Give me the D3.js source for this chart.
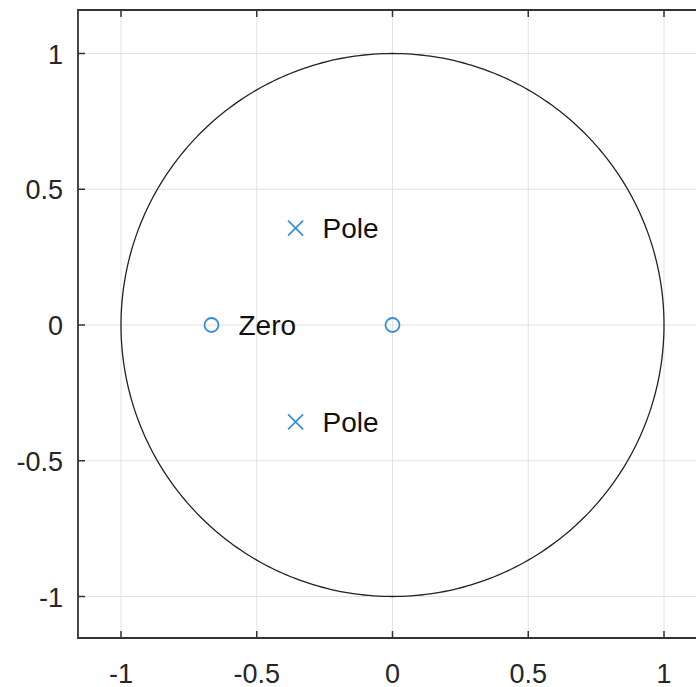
<!DOCTYPE html>
<html><head><meta charset="utf-8">
<script src="https://cdn.jsdelivr.net/npm/d3@7"></script>
<style>body{margin:0;background:#fff}svg{display:block}text{font-family:"Liberation Sans",Arial,sans-serif}</style>
</head><body>
<svg id="c" width="696" height="687"></svg>
<script>
const xTicks = [-1, -0.5, 0, 0.5, 1];
const yTicks = [-1, -0.5, 0, 0.5, 1];
const zeroRe = [-0.6667, 0];
const zeroIm = [0, 0];
const poleRe = [-0.357, -0.357];
const poleIm = [0.357, -0.357];
const labels = [{t:"Zero", re:-0.6667, im:0}, {t:"Pole", re:-0.357, im:0.357}, {t:"Pole", re:-0.357, im:-0.357}];

(function(){
const svg = d3.select("#c");
const pL = 78, pT = 10, pB = 638, pR = 720;
const k = 271.5;
const cx = 392.5, cy = 325;
const x = d3.scaleLinear().domain([-1, 1]).range([cx - k, cx + k]);
const y = d3.scaleLinear().domain([-1, 1]).range([cy + k, cy - k]);

// grid
svg.append("g").selectAll("line").data(xTicks).join("line")
  .attr("x1", d => x(d)).attr("x2", d => x(d)).attr("y1", pT).attr("y2", pB)
  .attr("stroke", "#e2e2e2").attr("stroke-width", 1);
svg.append("g").selectAll("line").data(yTicks).join("line")
  .attr("x1", pL).attr("x2", pR).attr("y1", d => y(d)).attr("y2", d => y(d))
  .attr("stroke", "#e2e2e2").attr("stroke-width", 1);

// unit circle
const th = d3.range(0, 361).map(d => d * Math.PI / 180);
svg.append("path").datum(th)
  .attr("d", d3.line().x(t => x(Math.cos(t))).y(t => y(Math.sin(t))))
  .attr("fill", "none").attr("stroke", "#222").attr("stroke-width", 1.3);

// axes frame
const tl = 7;
svg.append("g").selectAll("line").data(xTicks).join("line")
  .attr("x1", d => x(d)).attr("x2", d => x(d)).attr("y1", pB).attr("y2", pB - tl)
  .attr("stroke", "#333").attr("stroke-width", 1.5);
svg.append("g").selectAll("line").data(xTicks).join("line")
  .attr("x1", d => x(d)).attr("x2", d => x(d)).attr("y1", pT).attr("y2", pT + tl)
  .attr("stroke", "#333").attr("stroke-width", 1.5);
svg.append("g").selectAll("line").data(yTicks).join("line")
  .attr("x1", pL).attr("x2", pL + tl).attr("y1", d => y(d)).attr("y2", d => y(d))
  .attr("stroke", "#333").attr("stroke-width", 1.5);
svg.append("path")
  .attr("d", `M${pR},${pT}H${pL}V${pB}H${pR}`)
  .attr("fill", "none").attr("stroke", "#333").attr("stroke-width", 1.8);

// tick labels
const fmt = d => d === 0 ? "0" : String(d);
svg.append("g").selectAll("text").data(xTicks).join("text")
  .attr("x", d => x(d)).attr("y", 683).attr("text-anchor", "middle")
  .attr("font-size", 27).attr("fill", "#262626").text(fmt);
svg.append("g").selectAll("text").data(yTicks).join("text")
  .attr("x", 63).attr("y", d => y(d) + 10).attr("text-anchor", "end")
  .attr("font-size", 27).attr("fill", "#262626").text(fmt);

const blue = "#3b8ed6";
svg.append("g").selectAll("circle").data(zeroRe).join("circle")
  .attr("cx", d => x(d)).attr("cy", (d, i) => y(zeroIm[i])).attr("r", 7)
  .attr("fill", "none").attr("stroke", blue).attr("stroke-width", 1.8);
const s = 7.5;
svg.append("g").selectAll("path").data(poleRe).join("path")
  .attr("d", (d, i) => { const px = x(d), py = y(poleIm[i]);
    return `M${px-s},${py-s}L${px+s},${py+s}M${px-s},${py+s}L${px+s},${py-s}`; })
  .attr("stroke", blue).attr("stroke-width", 1.8).attr("fill", "none");

svg.append("g").selectAll("text").data(labels).join("text")
  .attr("x", d => x(d.re) + 27).attr("y", d => y(d.im) + 10)
  .attr("font-size", 28).attr("fill", "#111").text(d => d.t);
})();
</script>
</body></html>
